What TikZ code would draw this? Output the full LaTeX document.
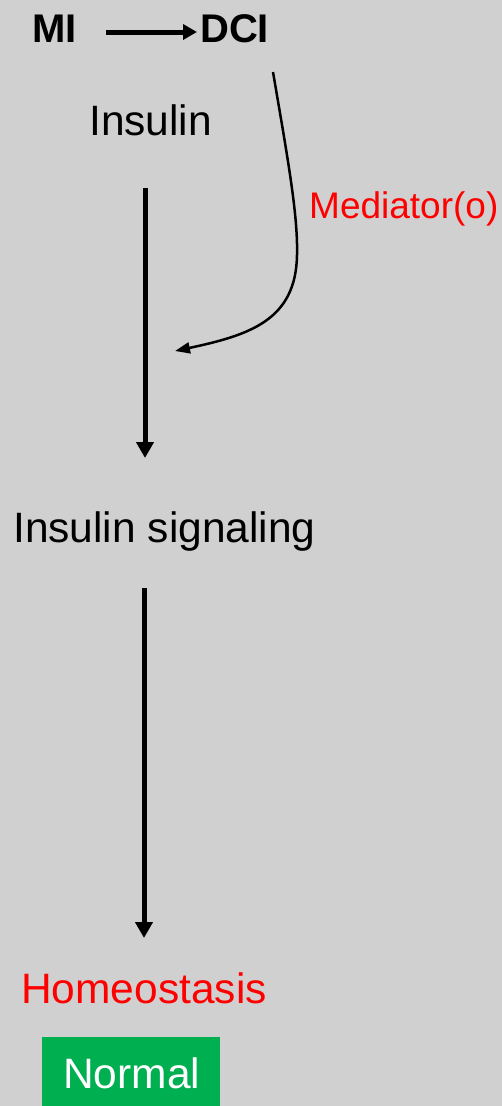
\documentclass[tikz,border=0pt]{standalone}
\usepackage{fontspec}
\setmainfont{Liberation Sans}
\usepackage{xcolor}
\usepackage{tikz}
\usetikzlibrary{arrows.meta, positioning}
\definecolor{slidegray}{RGB}{208, 208, 208}
\definecolor{normalgreen}{RGB}{0, 175, 80}
\definecolor{labelred}{RGB}{255, 0, 0}

\begin{document}
\begin{tikzpicture}[
    x=1pt, y=-1pt,
    lbl/.style={anchor=base west, inner sep=0pt, font=\fontsize{42.5}{50}\selectfont},
    molec/.style={anchor=base west, inner sep=0pt, font=\fontsize{40}{48}\selectfont\bfseries},
    vline/.style={-{Triangle[length=16pt, width=17pt]}, line width=5pt},
    hline/.style={-{Triangle[length=14pt, width=15pt]}, line width=5pt},
    medline/.style={-{Triangle[length=15pt, width=11pt]}, line width=2.5pt}
]
\useasboundingbox[fill=slidegray] (0, 0) rectangle (502, 1106);

% MI to DCI conversion
\node[molec] (mi) at (32, 42) {MI};
\node[molec] (dci) at (200, 42) {DCI};
\draw[hline] ([xshift=29pt, yshift=10pt]mi.base east) -- ([xshift=-3pt, yshift=10pt]dci.base west);

% main pathway
\node[lbl] (ins) at (89, 135) {Insulin};
\node[lbl] (sig) at (13, 542) {Insulin signaling};
\node[lbl, text=labelred] (homeo) at (21, 1003) {Homeostasis};

\coordinate (a1s) at (145, 188);
\coordinate (a1e) at (145, 458);
\coordinate (a2s) at (144, 588);
\coordinate (a2e) at (144, 938);
\draw[vline] (a1s) -- (a1e);
\draw[vline] (a2s) -- (a2e);

% mediator branch from DCI
\node[lbl, text=labelred, font=\fontsize{37}{44}\selectfont] (med) at (309, 218) {Mediator(o)};
\coordinate (ms) at (273, 72);
\coordinate (me) at (175, 351);
\draw[medline] (ms) .. controls (288, 160) and (298, 215) .. (297, 255)
    .. controls (296, 320) and (250, 335) .. (me);

% outcome box
\node[anchor=north west, fill=normalgreen, minimum width=178pt, minimum height=69pt, inner sep=0pt] (box) at (42, 1037) {};
\node[lbl, text=white] (norm) at (63, 1088) {Normal};

\end{tikzpicture}
\end{document}
